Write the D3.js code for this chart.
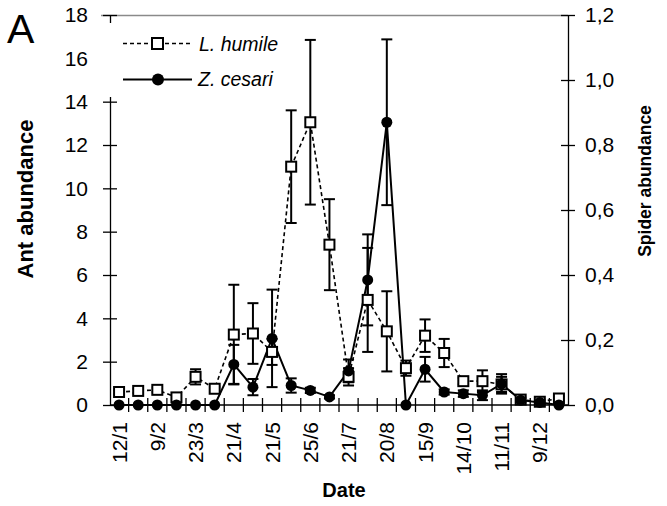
<!DOCTYPE html>
<html>
<head>
<meta charset="utf-8">
<script src="https://cdn.jsdelivr.net/npm/d3@7"></script>
<style>
  body { margin: 0; background: #fff; }
  svg text { font-family: "Liberation Sans", Arial, Helvetica, sans-serif; fill: #000; }
</style>
</head>
<body>
<svg id="chart" width="667" height="506"></svg>
<script>
// Sampling occasions through the year (one every ~2 weeks)
const samples = [1, 2, 3, 4, 5, 6, 7, 8, 9, 10, 11, 12,
                 13, 14, 15, 16, 17, 18, 19, 20, 21, 22, 23, 24];
// Date labels shown on every second sampling occasion
const dateLabels = ["12/1", "", "9/2", "", "23/3", "", "21/4", "", "21/5", "", "25/6", "",
                    "21/7", "", "20/8", "", "15/9", "", "14/10", "", "11/11", "", "9/12", ""];

// Linepithema humile (ant) mean abundance and error
const antMean = [0.6, 0.65, 0.7, 0.35, 1.3, 0.75, 3.25, 3.3, 2.45, 11.0, 13.05, 7.4,
                 1.3, 4.85, 3.4, 1.7, 3.2, 2.4, 1.1, 1.1, 0.95, 0.25, 0.15, 0.3];
const antErr  = [0.1, 0.1, 0.1, 0.1, 0.35, 0.1, 2.3, 1.4, 0.6, 2.6, 3.8, 2.1,
                 0.4, 2.4, 1.85, 0.35, 0.75, 0.65, 0.15, 0.5, 0.35, 0.1, 0.1, 0.1];

// Zodarion cesari (spider) mean abundance and error
const spiderMean = [0, 0, 0, 0, 0, 0, 0.125, 0.055, 0.205, 0.06, 0.045, 0.025,
                    0.105, 0.385, 0.87, 0, 0.11, 0.04, 0.035, 0.03, 0.065, 0.015, 0.008, 0];
const spiderErr  = [0, 0, 0, 0, 0, 0, 0.06, 0.025, 0.15, 0.022, 0.008, 0.005,
                    0.035, 0.14, 0.255, 0, 0.038, 0.008, 0.01, 0.015, 0.03, 0.005, 0.005, 0];

// Axis tick values
const antTicks = [0, 2, 4, 6, 8, 10, 12, 14, 16, 18];
const spiderTicks = [0, 0.2, 0.4, 0.6, 0.8, 1.0, 1.2];

const svg = d3.select("#chart");
const plotLeft = 110, plotRight = 568, plotTop = 15, plotBottom = 405;
const tickFont = 21;

const x = d3.scaleBand().domain(samples).range([109.5, 568.5]).padding(0);
const cx = d => x(d) + x.bandwidth() / 2;
const yAnt = d3.scaleLinear().domain([0, 18]).range([plotBottom, plotTop]);
const ySpider = d3.scaleLinear().domain([0, 1.2]).range([plotBottom, plotTop]);

const commaFmt = d3.formatLocale({ decimal: ",", thousands: ".", grouping: [3], currency: ["", ""] }).format(".1f");

// Top frame line
svg.append("line")
  .attr("x1", 101).attr("x2", plotRight).attr("y1", plotTop + 0.5).attr("y2", plotTop + 0.5)
  .attr("stroke", "#8a8a8a").attr("stroke-width", 1.5);

// Left axis (ant abundance)
const gL = svg.append("g").attr("transform", `translate(${plotLeft},0)`)
  .call(d3.axisLeft(yAnt).tickValues(antTicks).tickSizeOuter(0).tickSizeInner(7).tickPadding(0));
gL.select(".domain").attr("stroke", "#000").attr("stroke-width", 1.3);
gL.selectAll(".tick line").attr("x1", -7).attr("x2", 7).attr("stroke-width", 1.3);
gL.selectAll(".tick text").attr("x", -22).attr("font-size", tickFont).style("font-family", "inherit");

// Right axis (spider abundance)
const gR = svg.append("g").attr("transform", `translate(${plotRight},0)`)
  .call(d3.axisRight(ySpider).tickValues(spiderTicks).tickFormat(commaFmt).tickSizeOuter(0).tickSizeInner(7));
gR.select(".domain").attr("stroke", "#000").attr("stroke-width", 1.3);
gR.selectAll(".tick line").attr("x1", -7).attr("x2", 7).attr("stroke-width", 1.3);
gR.selectAll(".tick text").attr("x", 17).attr("font-size", tickFont).style("font-family", "inherit");

// Bottom axis: line, ticks between sampling occasions, rotated date labels
const gB = svg.append("g").attr("transform", `translate(0,${plotBottom})`)
  .call(d3.axisBottom(x).tickSize(0).tickFormat((d, i) => dateLabels[i]));
gB.select(".domain").attr("d", `M${plotLeft},0H${plotRight}`).attr("stroke", "#000").attr("stroke-width", 1.3);
gB.selectAll(".tick text")
  .attr("transform", "rotate(-90)")
  .attr("text-anchor", "end")
  .attr("x", -17).attr("y", 0).attr("dy", "0.36em")
  .attr("font-size", tickFont).style("font-family", "inherit");
gB.selectAll(".sep").data(samples.slice(1)).join("line")
  .attr("class", "sep")
  .attr("x1", d => x(d)).attr("x2", d => x(d))
  .attr("y1", -7).attr("y2", 7)
  .attr("stroke", "#000").attr("stroke-width", 1.3);

// Error bars helper
function errorBars(mean, err, y, cls) {
  const g = svg.append("g").attr("class", cls)
    .attr("stroke", "#000").attr("stroke-width", 2).attr("fill", "none");
  const rows = samples.map((s, i) => ({ s, m: mean[i], e: err[i] })).filter(d => d.e > 0);
  g.selectAll("line.v").data(rows).join("line").attr("class", "v")
    .attr("x1", d => cx(d.s)).attr("x2", d => cx(d.s))
    .attr("y1", d => y(d.m + d.e)).attr("y2", d => y(d.m - d.e));
  g.selectAll("line.cap").data(rows.flatMap(d => [{ s: d.s, v: d.m + d.e }, { s: d.s, v: d.m - d.e }]))
    .join("line").attr("class", "cap")
    .attr("x1", d => cx(d.s) - 5.5).attr("x2", d => cx(d.s) + 5.5)
    .attr("y1", d => y(d.v)).attr("y2", d => y(d.v));
}

// Ant series: dashed line with open squares
errorBars(antMean, antErr, yAnt, "ant-err");
const antPts = samples.map((s, i) => [cx(s), yAnt(antMean[i])]);
svg.append("path").attr("d", d3.line()(antPts))
  .attr("fill", "none").attr("stroke", "#000").attr("stroke-width", 1.6).attr("stroke-dasharray", "4,3");

// Spider series: solid line with filled circles
errorBars(spiderMean, spiderErr, ySpider, "spider-err");
const spPts = samples.map((s, i) => [cx(s), ySpider(spiderMean[i])]);
svg.append("path").attr("d", d3.line()(spPts))
  .attr("fill", "none").attr("stroke", "#000").attr("stroke-width", 2);

svg.append("g").selectAll("rect").data(antPts).join("rect")
  .attr("x", d => d[0] - 5).attr("y", d => d[1] - 5).attr("width", 10).attr("height", 10)
  .attr("fill", "#fff").attr("stroke", "#000").attr("stroke-width", 2);
svg.append("g").selectAll("circle").data(spPts).join("circle")
  .attr("cx", d => d[0]).attr("cy", d => d[1]).attr("r", 5.5).attr("fill", "#000");

// Legend (white box over the upper left of the plot)
const lg = svg.append("g");
lg.append("rect").attr("x", 101).attr("y", 23).attr("width", 185).attr("height", 74).attr("fill", "#fff");
lg.append("line").attr("x1", 123).attr("x2", 191).attr("y1", 43.5).attr("y2", 43.5)
  .attr("stroke", "#000").attr("stroke-width", 1.6).attr("stroke-dasharray", "4,3");
lg.append("rect").attr("x", 152).attr("y", 38).attr("width", 11).attr("height", 11)
  .attr("fill", "#fff").attr("stroke", "#000").attr("stroke-width", 2);
lg.append("text").attr("x", 199).attr("y", 50.5).attr("font-size", 19.5).attr("font-style", "italic").text("L. humile");
lg.append("line").attr("x1", 123).attr("x2", 192).attr("y1", 79.5).attr("y2", 79.5)
  .attr("stroke", "#000").attr("stroke-width", 2);
lg.append("circle").attr("cx", 158).attr("cy", 79.5).attr("r", 6).attr("fill", "#000");
lg.append("text").attr("x", 198).attr("y", 85.5).attr("font-size", 19.5).attr("font-style", "italic").text("Z. cesari");

// Axis titles and panel letter
svg.append("text").attr("transform", "translate(33,199) rotate(-90)")
  .attr("text-anchor", "middle").attr("font-size", 22).attr("font-weight", "bold").text("Ant abundance");
svg.append("text").attr("transform", "translate(651,181) rotate(-90)")
  .attr("text-anchor", "middle").attr("font-size", 17.5).attr("font-weight", "bold").text("Spider abundance");
svg.append("text").attr("x", 344).attr("y", 497)
  .attr("text-anchor", "middle").attr("font-size", 20).attr("font-weight", "bold").text("Date");
svg.append("text").attr("x", 7).attr("y", 43).attr("font-size", 41).text("A");
</script>
</body>
</html>
